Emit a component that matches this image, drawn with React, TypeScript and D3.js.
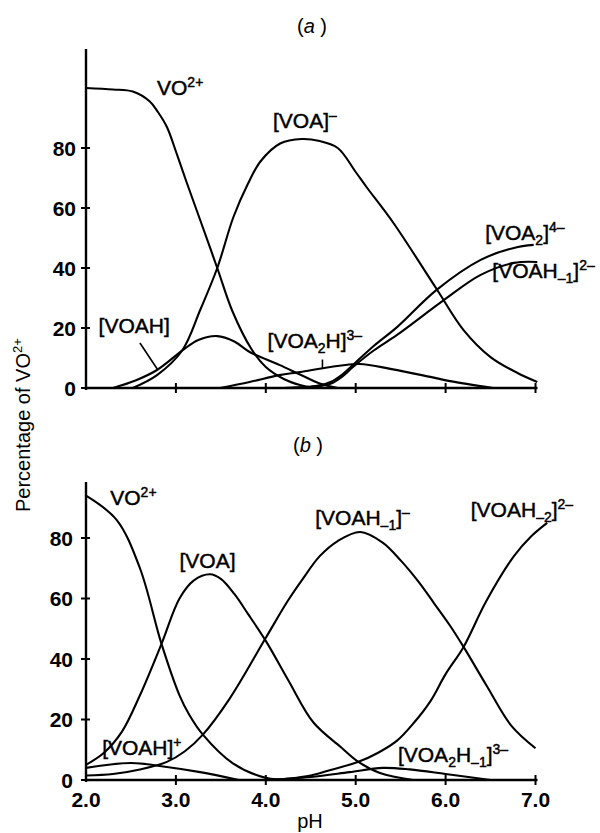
import React from 'react';
import * as d3 from 'd3';

// ---- panel (a) data: pH vs percentage of VO2+ ----
const aVO_pH = [2.0, 2.3, 2.52, 2.71, 2.8, 2.9, 3.01, 3.12, 3.27, 3.46, 3.63, 3.84, 4.0, 4.2, 4.38, 4.55];
const aVO_pct = [100, 99.5, 98.8, 95.5, 92, 87, 78, 68.5, 56, 40, 25.5, 13, 7, 3, 1, 0];

const aVOA_pH = [2.52, 2.79, 3.07, 3.27, 3.46, 3.64, 3.8, 3.94, 4.16, 4.4, 4.6, 4.8, 5.0, 5.12, 5.42, 5.9, 6.2, 6.5, 6.8, 7.02];
const aVOA_pct = [0, 4.3, 12.5, 26, 40, 57, 68, 75.5, 81.5, 83, 82.3, 80, 72, 67, 55, 33, 19.3, 10.3, 5, 2];

const aVOAH_pH = [2.3, 2.55, 2.79, 3.08, 3.25, 3.46, 3.65, 3.82, 4.15, 4.38, 4.6, 4.8];
const aVOAH_pct = [0, 2.5, 6, 12.7, 16, 17.3, 15.5, 12, 7.7, 4.5, 1.5, 0];

const aVOA2H_pH = [3.49, 3.82, 4.15, 4.38, 4.72, 5.04, 5.4, 5.83, 6.05, 6.53];
const aVOA2H_pct = [0, 2, 4.3, 5.3, 7, 8, 6.3, 3.7, 2.3, 0];

const aVOA2_pH = [4.2, 4.45, 4.6, 4.72, 4.85, 4.97, 5.2, 5.46, 5.9, 6.39, 6.76, 6.98];
const aVOA2_pct = [0, 0.3, 0.9, 2, 4.5, 7.7, 14, 20.3, 32.7, 42.7, 46.7, 47.7];

const aVOAHm1_pH = [4.2, 4.45, 4.6, 4.72, 4.85, 4.97, 5.2, 5.46, 5.98, 6.39, 6.76, 7.02];
const aVOAHm1_pct = [0, 0.3, 0.7, 1.4, 3.8, 7, 12.5, 17.7, 29.3, 37.7, 41.7, 42];

// ---- panel (b) data ----
const bVO_pH = [2.0, 2.34, 2.6, 2.84, 3.04, 3.15, 3.3, 3.63, 4.0, 4.3];
const bVO_pct = [94, 86, 70, 45, 28, 21.5, 15, 5.6, 0.7, 0];

const bVOAHp_pH = [2.0, 2.5, 2.9, 3.27, 3.7];
const bVOAHp_pct = [4, 5.6, 4.3, 2.6, 0];

const bVOA_pH = [2.0, 2.2, 2.4, 2.6, 2.84, 3.04, 3.2, 3.38, 3.5, 3.65, 3.8, 4.0, 4.25, 4.53, 4.83, 5.03, 5.27, 5.64];
const bVOA_pct = [5, 9, 16, 28, 45, 60, 66, 68, 66.5, 61.5, 55, 46, 33, 19, 11, 6, 2.3, 0];

const bVOAHm1_pH = [2.0, 2.3, 2.6, 2.9, 3.1, 3.3, 3.6, 4.0, 4.24, 4.4, 4.6, 4.8, 5.05, 5.3, 5.5, 5.7, 5.87, 6.05, 6.2, 6.46, 6.73, 7.0];
const bVOAHm1_pct = [1.5, 2, 3.5, 6, 9.5, 15, 27, 47, 59, 66, 74, 79, 82, 78.5, 72.6, 65.5, 58.5, 51, 44, 31, 18, 10.5];

const bVOAHm2_pH = [4.1, 4.5, 4.72, 5.03, 5.25, 5.46, 5.65, 5.83, 6.0, 6.2, 6.45, 6.76, 6.95, 7.13];
const bVOAHm2_pct = [0, 1.5, 3.3, 6, 9, 13, 19, 26, 35, 44, 59, 74, 80.5, 85];

const bVOA2Hm1_pH = [4.0, 4.5, 4.93, 5.3, 5.6, 6.0, 6.5];
const bVOA2Hm1_pct = [0, 1, 2.6, 4, 3.5, 2, 0];

// ticks
const xTicks = [2, 3, 4, 5, 6, 7];
const xTickLabels = ['2.0', '3.0', '4.0', '5.0', '6.0', '7.0'];
const yTicks = [0, 20, 40, 60, 80];

const FONT = '"Liberation Sans", Arial, Helvetica, sans-serif';

type Part = { t: string; k?: 'sup' | 'sub' };

function Label({ x, y, parts }: { x: number; y: number; parts: Part[] }) {
  // tspans with manual baseline shifts for super/subscripts
  let cur = 0;
  const spans = parts.map((p, i) => {
    const target = p.k === 'sup' ? -8 : p.k === 'sub' ? 5 : 0;
    const dy = target - cur;
    cur = target;
    return (
      <tspan key={i} dy={dy} fontSize={p.k ? 14 : 21}>
        {p.t}
      </tspan>
    );
  });
  return (
    <text x={x} y={y} fontFamily={FONT} fill="#000" stroke="#000" strokeWidth={0.45}>
      {spans}
    </text>
  );
}

function Panel({
  series,
  y,
  axisTop,
  showXLabels,
  labelRight,
}: {
  series: [number[], number[]][];
  y: d3.ScaleLinear<number, number>;
  axisTop: number;
  showXLabels: boolean;
  labelRight: number;
}) {
  const line = d3
    .line<[number, number]>()
    .x((d) => x(d[0]))
    .y((d) => Math.min(y(0), y(d[1])))
    .curve(d3.curveCatmullRom.alpha(0.5));
  const y0 = y(0);
  return (
    <g>
      {series.map(([ph, pct], i) => (
        <path
          key={i}
          d={line(ph.map((p, j) => [p, pct[j]] as [number, number])) || ''}
          fill="none"
          stroke="#000"
          strokeWidth={2.1}
        />
      ))}
      {/* axes */}
      <line x1={x(2)} x2={x(2)} y1={axisTop} y2={y0 + 2} stroke="#000" strokeWidth={2.4} />
      <line x1={x(2) - 1} x2={x(7) + 2} y1={y0} y2={y0} stroke="#000" strokeWidth={2.4} />
      {yTicks.map((t) => (
        <g key={t}>
          <line x1={x(2) - 5} x2={x(2) + 4} y1={y(t)} y2={y(t)} stroke="#000" strokeWidth={2} />
          <text
            x={labelRight}
            y={y(t)}
            dy="0.36em"
            textAnchor="end"
            fontFamily={FONT}
            fontSize={21}
            fontWeight="bold"
          >
            {t}
          </text>
        </g>
      ))}
      {xTicks.slice(1).map((t) => (
        <line key={t} x1={x(t)} x2={x(t)} y1={y0 - 5} y2={y0 + 5} stroke="#000" strokeWidth={2} />
      ))}
      {showXLabels &&
        xTicks.map((t, i) => (
          <text
            key={t}
            x={x(t)}
            y={y0 + 27}
            textAnchor="middle"
            fontFamily={FONT}
            fontSize={21}
            fontWeight="bold"
          >
            {xTickLabels[i]}
          </text>
        ))}
    </g>
  );
}

const x = d3.scaleLinear().domain([2, 7]).range([86, 535.5]);
const yA = d3.scaleLinear().domain([0, 80]).range([388, 148]);
const yB = d3.scaleLinear().domain([0, 80]).range([780, 538]);

export default function App() {
  const seriesA: [number[], number[]][] = [
    [aVO_pH, aVO_pct],
    [aVOA_pH, aVOA_pct],
    [aVOAH_pH, aVOAH_pct],
    [aVOA2H_pH, aVOA2H_pct],
    [aVOA2_pH, aVOA2_pct],
    [aVOAHm1_pH, aVOAHm1_pct],
  ];
  const seriesB: [number[], number[]][] = [
    [bVO_pH, bVO_pct],
    [bVOAHp_pH, bVOAHp_pct],
    [bVOA_pH, bVOA_pct],
    [bVOAHm1_pH, bVOAHm1_pct],
    [bVOAHm2_pH, bVOAHm2_pct],
    [bVOA2Hm1_pH, bVOA2Hm1_pct],
  ];
  return (
    <svg
      width={600}
      height={833}
      style={{ position: 'absolute', left: 0, top: 0, background: '#fff' }}
    >
      <rect width={600} height={833} fill="#fff" />
      {/* titles */}
      <text x={297} y={33} fontFamily={FONT} fontSize={20}>
        (<tspan fontStyle="italic">a</tspan> )
      </text>
      <text x={293} y={452} fontFamily={FONT} fontSize={20}>
        (<tspan fontStyle="italic">b</tspan> )
      </text>

      <Panel series={seriesA} y={yA} axisTop={49} showXLabels={false} labelRight={76} />
      <Panel series={seriesB} y={yB} axisTop={482} showXLabels={true} labelRight={73} />

      {/* leader lines */}
      <line x1={x(2.6)} y1={yA(15)} x2={x(2.8)} y2={yA(6)} stroke="#000" strokeWidth={1.6} />
      <line x1={x(4.63)} y1={yA(9.5)} x2={x(4.63)} y2={yA(6.6)} stroke="#000" strokeWidth={1.6} />

      {/* panel (a) labels */}
      <Label x={x(2.79)} y={yA(97.7)} parts={[{ t: 'VO' }, { t: '2+', k: 'sup' }]} />
      <Label x={x(4.08)} y={yA(86.7)} parts={[{ t: '[VOA]' }, { t: '–', k: 'sup' }]} />
      <Label x={x(6.44)} y={yA(49.3)} parts={[{ t: '[VOA' }, { t: '2', k: 'sub' }, { t: ']' }, { t: '4–', k: 'sup' }]} />
      <Label x={x(6.52)} y={yA(36.7)} parts={[{ t: '[VOAH' }, { t: '–1', k: 'sub' }, { t: ']' }, { t: '2–', k: 'sup' }]} />
      <Label x={x(2.14)} y={yA(18.3)} parts={[{ t: '[VOAH]' }]} />
      <Label x={x(4.02)} y={yA(13.3)} parts={[{ t: '[VOA' }, { t: '2', k: 'sub' }, { t: 'H]' }, { t: '3–', k: 'sup' }]} />

      {/* panel (b) labels */}
      <Label x={x(2.27)} y={yB(90.9)} parts={[{ t: 'VO' }, { t: '2+', k: 'sup' }]} />
      <Label x={x(3.04)} y={yB(70)} parts={[{ t: '[VOA]' }]} />
      <Label x={x(4.55)} y={yB(84.3)} parts={[{ t: '[VOAH' }, { t: '–1', k: 'sub' }, { t: ']' }, { t: '–', k: 'sup' }]} />
      <Label x={x(6.28)} y={yB(87)} parts={[{ t: '[VOAH' }, { t: '–2', k: 'sub' }, { t: ']' }, { t: '2–', k: 'sup' }]} />
      <Label x={x(2.18)} y={yB(8.3)} parts={[{ t: '[VOAH]' }, { t: '+', k: 'sup' }]} />
      <Label x={x(5.47)} y={yB(6)} parts={[{ t: '[VOA' }, { t: '2', k: 'sub' }, { t: 'H' }, { t: '–1', k: 'sub' }, { t: ']' }, { t: '3–', k: 'sup' }]} />

      {/* axis titles */}
      <text transform="translate(30,512) rotate(-90)" fontFamily={FONT} fontSize={20}>
        Percentage of VO<tspan dy={-8} fontSize={13}>2+</tspan>
      </text>
      <text x={310} y={828} textAnchor="middle" fontFamily={FONT} fontSize={20}>
        pH
      </text>
    </svg>
  );
}
